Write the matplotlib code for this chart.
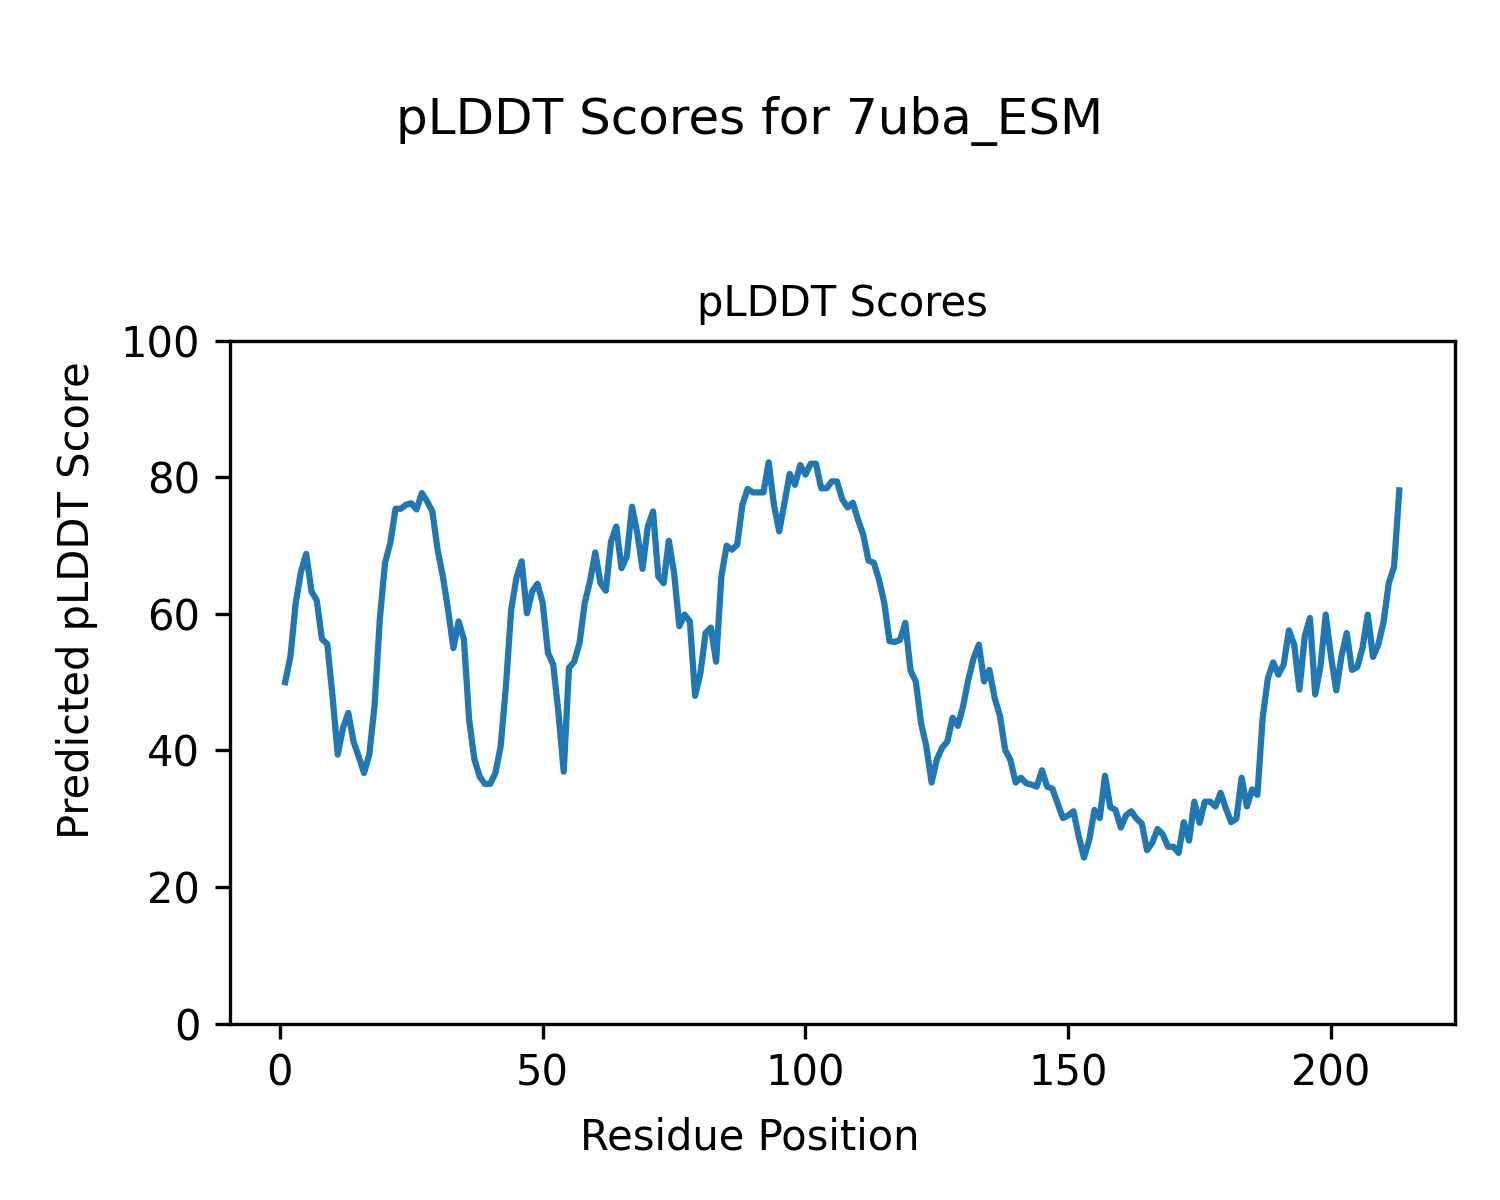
import numpy as np
import matplotlib
matplotlib.use("Agg")
import matplotlib.pyplot as plt

# ── Data ──────────────────────────────────────────────────────────────────────
model_name = "7uba_ESM"

plddt = [
    50.0, 53.8, 61.6, 66.2, 68.8, 63.3, 62.0, 56.3, 55.6, 48.0,
    39.4, 43.3, 45.5, 41.3, 39.1, 36.7, 39.4, 46.5, 59.2, 67.5,
    70.4, 75.4, 75.4, 76.0, 76.2, 75.3, 77.7, 76.5, 75.0, 69.4,
    65.5, 60.6, 55.0, 58.9, 56.3, 44.5, 38.7, 36.2, 35.1, 35.1,
    36.7, 40.6, 49.4, 60.6, 65.3, 67.7, 60.1, 63.3, 64.4, 61.6,
    54.3, 52.6, 45.5, 36.9, 52.1, 53.0, 55.7, 61.6, 64.8, 69.0,
    64.5, 63.4, 70.6, 72.8, 66.7, 68.4, 75.7, 71.8, 66.6, 72.8,
    75.0, 65.5, 64.5, 70.7, 66.0, 58.2, 59.9, 58.9, 48.0, 51.3,
    57.2, 58.0, 53.0, 65.5, 70.0, 69.4, 70.1, 76.0, 78.3, 77.8,
    77.8, 77.8, 82.2, 76.0, 72.1, 76.2, 80.5, 78.9, 81.8, 80.4,
    82.0, 82.0, 78.4, 78.4, 79.4, 79.4, 76.8, 75.6, 76.3, 73.8,
    71.6, 67.8, 67.5, 65.0, 61.6, 56.0, 55.9, 56.2, 58.7, 51.7,
    50.1, 44.0, 40.6, 35.3, 38.7, 40.4, 41.3, 44.8, 43.6, 46.5,
    50.4, 53.5, 55.5, 50.1, 51.8, 47.7, 45.1, 40.1, 38.6, 35.3,
    36.0, 35.2, 35.0, 34.7, 37.1, 34.7, 34.4, 32.2, 30.1, 30.5,
    31.1, 27.4, 24.3, 26.9, 31.3, 30.1, 36.3, 31.7, 31.3, 28.7,
    30.5, 31.1, 30.0, 29.3, 25.4, 26.5, 28.5, 27.7, 25.9, 25.9,
    25.0, 29.5, 26.8, 32.5, 29.4, 32.5, 32.5, 31.8, 33.8, 31.5,
    29.5, 30.0, 36.0, 31.8, 34.3, 33.5, 44.8, 50.6, 52.9, 51.1,
    52.6, 57.6, 55.5, 48.9, 56.7, 59.4, 48.2, 52.3, 59.9, 53.8,
    48.8, 53.8, 57.2, 51.8, 52.2, 55.0, 59.9, 53.7, 55.5, 58.8,
    64.5, 66.9, 78.1,
]
residues = np.arange(1, len(plddt) + 1)

# ── Plot ──────────────────────────────────────────────────────────────────────
fig = plt.figure(figsize=(5, 4), dpi=300)
ax = fig.add_axes([0.153, 0.147, 0.817, 0.569])

ax.plot(residues, plddt, color="tab:blue", linewidth=1.5)
ax.set_ylim(0, 100)
ax.set_title("pLDDT Scores", fontsize=10)

# figure-level labels (centred on the figure, not the axes)
fig.supxlabel("Residue Position", fontsize=10, y=0.052, va="center")
fig.supylabel("Predicted pLDDT Score", fontsize=10, x=0.0513, ha="center")
fig.suptitle(f"pLDDT Scores for {model_name}", fontsize=12, y=0.92)

fig.savefig("out.png", dpi=300)
